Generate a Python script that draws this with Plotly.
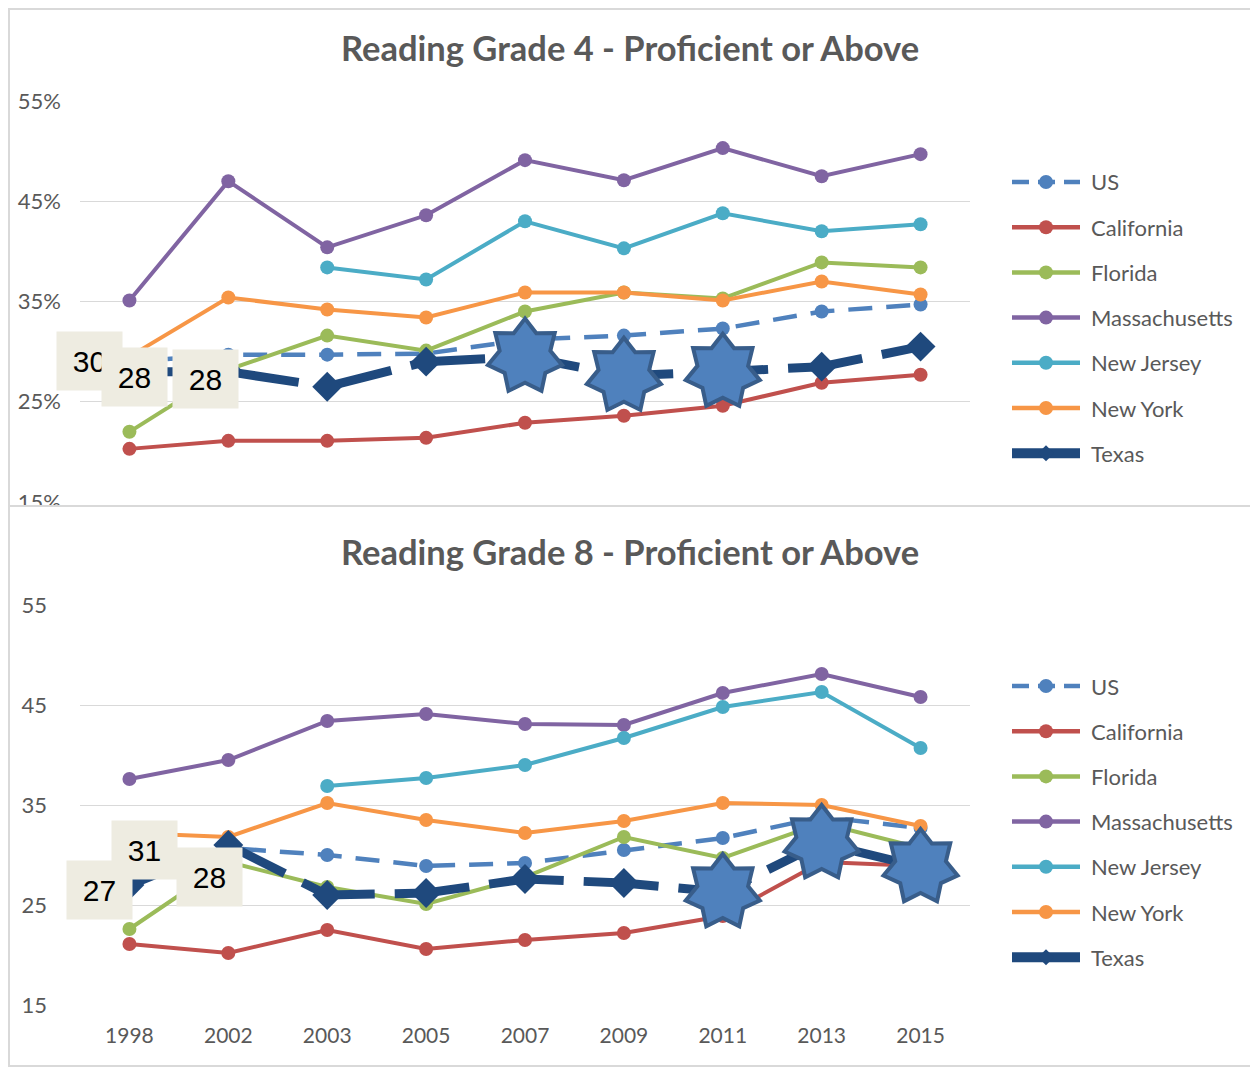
import math

import plotly.graph_objects as go

# the page puts the figure 8px in from the corner, so the figure is 8px smaller
# and all pixel positions below are measured on the full 1258x1068 window
OFF = 8
W, H = 1258 - OFF, 1068 - OFF

years = ["1998", "2002", "2003", "2005", "2007", "2009", "2011", "2013", "2015"]
series = ["US", "California", "Florida", "Massachusetts", "New Jersey", "New York", "Texas"]

# Grade 4, percent proficient or above
us4 = [29.0, 29.7, 29.7, 29.8, 31.2, 31.6, 32.3, 34.0, 34.7]
ca4 = [20.3, 21.1, 21.1, 21.4, 22.9, 23.6, 24.6, 26.9, 27.7]
fl4 = [22.0, 28.2, 31.6, 30.1, 34.0, 35.9, 35.3, 38.9, 38.4]
ma4 = [35.1, 47.0, 40.4, 43.6, 49.1, 47.1, 50.3, 47.5, 49.7]
nj4 = [None, None, 38.4, 37.2, 43.0, 40.3, 43.8, 42.0, 42.7]
ny4 = [29.5, 35.4, 34.2, 33.4, 35.9, 35.9, 35.1, 37.0, 35.7]
tx4 = [28.0, 28.0, 26.5, 29.0, 29.5, 27.6, 28.0, 28.5, 30.5]

# Grade 8
us8 = [29.0, 30.7, 30.0, 28.9, 29.2, 30.5, 31.7, 33.8, 32.7]
ca8 = [21.1, 20.2, 22.5, 20.6, 21.5, 22.2, 23.9, 29.3, 28.9]
fl8 = [22.6, 29.3, 26.8, 25.1, 27.8, 31.8, 29.7, 33.2, 30.7]
ma8 = [37.6, 39.5, 43.4, 44.1, 43.1, 43.0, 46.2, 48.1, 45.8]
nj8 = [None, None, 36.9, 37.7, 39.0, 41.7, 44.8, 46.3, 40.7]
ny8 = [32.2, 31.8, 35.2, 33.5, 32.2, 33.4, 35.2, 35.0, 32.9]
tx8 = [27.0, 31.0, 26.0, 26.2, 27.6, 27.2, 26.3, 31.2, 28.8]

# Texas points highlighted with stars (by year)
stars4 = ["2007", "2009", "2011"]
stars8 = ["2011", "2013", "2015"]

# data label boxes: text, box centre in pixels
labels4 = ["30", "28", "28"]
labels8 = ["27", "31", "28"]
label_pos4 = [(89, 361), (134, 377), (205, 379)]
label_pos8 = [(99, 890), (144, 850), (209, 877)]

colors = ["#4F81BD", "#C0504D", "#9BBB59", "#8064A2", "#4BACC6", "#F79646", "#1F497D"]
grey = "#595959"
font_main = "Lato"

xi = list(range(len(years)))


def px_x(p):
    return (p - OFF) / W


def px_y(p):
    return 1 - (p - OFF) / H


fig = go.Figure()


def add_chart(values, xaxis, yaxis):
    for name, vals, col in zip(series, values, colors):
        if name == "Texas":
            line = dict(color=col, width=9, dash="75px,20px")
            marker = dict(symbol="diamond", size=23, color=col)
        elif name == "US":
            line = dict(color=col, width=4.5, dash="24px,14px")
            marker = dict(symbol="circle", size=14, color=col)
        else:
            line = dict(color=col, width=4)
            marker = dict(symbol="circle", size=14, color=col)
        fig.add_trace(go.Scatter(
            x=xi, y=vals, name=name, mode="lines+markers",
            line=line, marker=marker, xaxis=xaxis, yaxis=yaxis,
            showlegend=False, hoverinfo="skip",
        ))


add_chart([us4, ca4, fl4, ma4, nj4, ny4, tx4], "x", "y")
add_chart([us8, ca8, fl8, ma8, nj8, ny8, tx8], "x2", "y2")


def star_path(R=38, r=26, n=7):
    pts = []
    for k in range(2 * n):
        rad = R if k % 2 == 0 else r
        a = math.pi / 2 + k * math.pi / n
        pts.append((rad * math.cos(a), rad * math.sin(a)))
    return "M" + "L".join(f"{x:.2f},{y:.2f}" for x, y in pts) + "Z"


shapes = []
for yrs, vals, xr, yr in [(stars4, tx4, "x", "y"), (stars8, tx8, "x2", "y2")]:
    for yr_label in yrs:
        i = years.index(yr_label)
        shapes.append(dict(
            type="path", xref=xr, yref=yr, xsizemode="pixel", ysizemode="pixel",
            xanchor=i, yanchor=vals[i], path=star_path(),
            fillcolor="#4F81BD", line=dict(color="#385D8A", width=4), layer="above",
        ))

# white strip that crops the top chart, then the two chart frames
shapes.append(dict(type="rect", xref="paper", yref="paper", x0=0, x1=1,
                   y0=px_y(532), y1=px_y(505), fillcolor="white", line_width=0, layer="above"))
for top, bottom in [(9, 506), (506, 1066)]:
    shapes.append(dict(type="rect", xref="paper", yref="paper",
                       x0=px_x(9), x1=px_x(1256), y0=px_y(bottom), y1=px_y(top),
                       line=dict(color="#d9d9d9", width=2), layer="above"))

annotations = []
for text, yc in [("Reading Grade 4 - Proficient or Above", 47),
                 ("Reading Grade 8 - Proficient or Above", 551)]:
    annotations.append(dict(
        text=f"<b>{text}</b>", x=px_x(630), y=px_y(yc), xref="paper", yref="paper",
        xanchor="center", yanchor="middle", showarrow=False,
        font=dict(family=font_main, size=34.5, color=grey),
    ))

for labs, pos in [(labels4, label_pos4), (labels8, label_pos8)]:
    for text, (cx, cy) in zip(labs, pos):
        annotations.append(dict(
            text=text, x=px_x(cx), y=px_y(cy), xref="paper", yref="paper",
            xanchor="center", yanchor="middle",
            showarrow=False, width=64, height=57, borderpad=0.5, bgcolor="#EEECE1",
            font=dict(family="Liberation Sans", size=30, color="black"),
        ))

# legends drawn by hand: long line, marker in the middle, name on the right
for first_row in (182, 686):
    for k, (name, col) in enumerate(zip(series, colors)):
        yc = first_row + k * 45.2
        if name == "Texas":
            lw, dash = 10, "solid"
        elif name == "US":
            lw, dash = 4.5, "17px,9px"
        else:
            lw, dash = 4.5, "solid"
        shapes.append(dict(type="line", xref="paper", yref="paper",
                           x0=px_x(1012), x1=px_x(1080), y0=px_y(yc), y1=px_y(yc),
                           line=dict(color=col, width=lw, dash=dash), layer="above"))
        if name == "Texas":
            mark = dict(type="path", path="M-8,0L0,8L8,0L0,-8Z")
        else:
            mark = dict(type="circle", x0=-7, x1=7, y0=-7, y1=7)
        shapes.append(dict(xref="paper", yref="paper", xsizemode="pixel", ysizemode="pixel",
                           xanchor=px_x(1046), yanchor=px_y(yc), fillcolor=col,
                           line_width=0, layer="above", **mark))
        annotations.append(dict(
            text=name, x=px_x(1089), y=px_y(yc), xref="paper", yref="paper",
            xanchor="left", yanchor="middle", showarrow=False,
            font=dict(family=font_main, size=22, color=grey),
        ))

x_dom = [px_x(80), px_x(970)]
axis_common = dict(showline=False, zeroline=False, ticks="", automargin=False,
                   tickfont=dict(family=font_main, size=22, color=grey))

fig.update_layout(
    width=W, height=H,
    margin=dict(l=0, r=0, t=0, b=0),
    paper_bgcolor="white", plot_bgcolor="white",
    showlegend=False,
    xaxis=dict(domain=x_dom, range=[-0.5, 8.5], showticklabels=False,
               showgrid=False, anchor="y", **axis_common),
    yaxis=dict(domain=[px_y(502), px_y(101)], range=[15, 55], dtick=10, tick0=15,
               ticksuffix="%", gridcolor="#d9d9d9", gridwidth=1.3,
               ticklabelstandoff=18, anchor="x", **axis_common),
    xaxis2=dict(domain=x_dom, range=[-0.5, 8.5], tickvals=xi, ticktext=years,
                showgrid=False, anchor="y2", ticklabelstandoff=16, **axis_common),
    yaxis2=dict(domain=[px_y(1005), px_y(605)], range=[15, 55], dtick=10, tick0=15,
                gridcolor="#d9d9d9", gridwidth=1.3, ticklabelstandoff=32,
                anchor="x2", **axis_common),
    shapes=shapes,
    annotations=annotations,
)
fig.update_xaxes(tickfont_size=21, selector=dict(anchor="y2"))

fig.write_html("out.html")
